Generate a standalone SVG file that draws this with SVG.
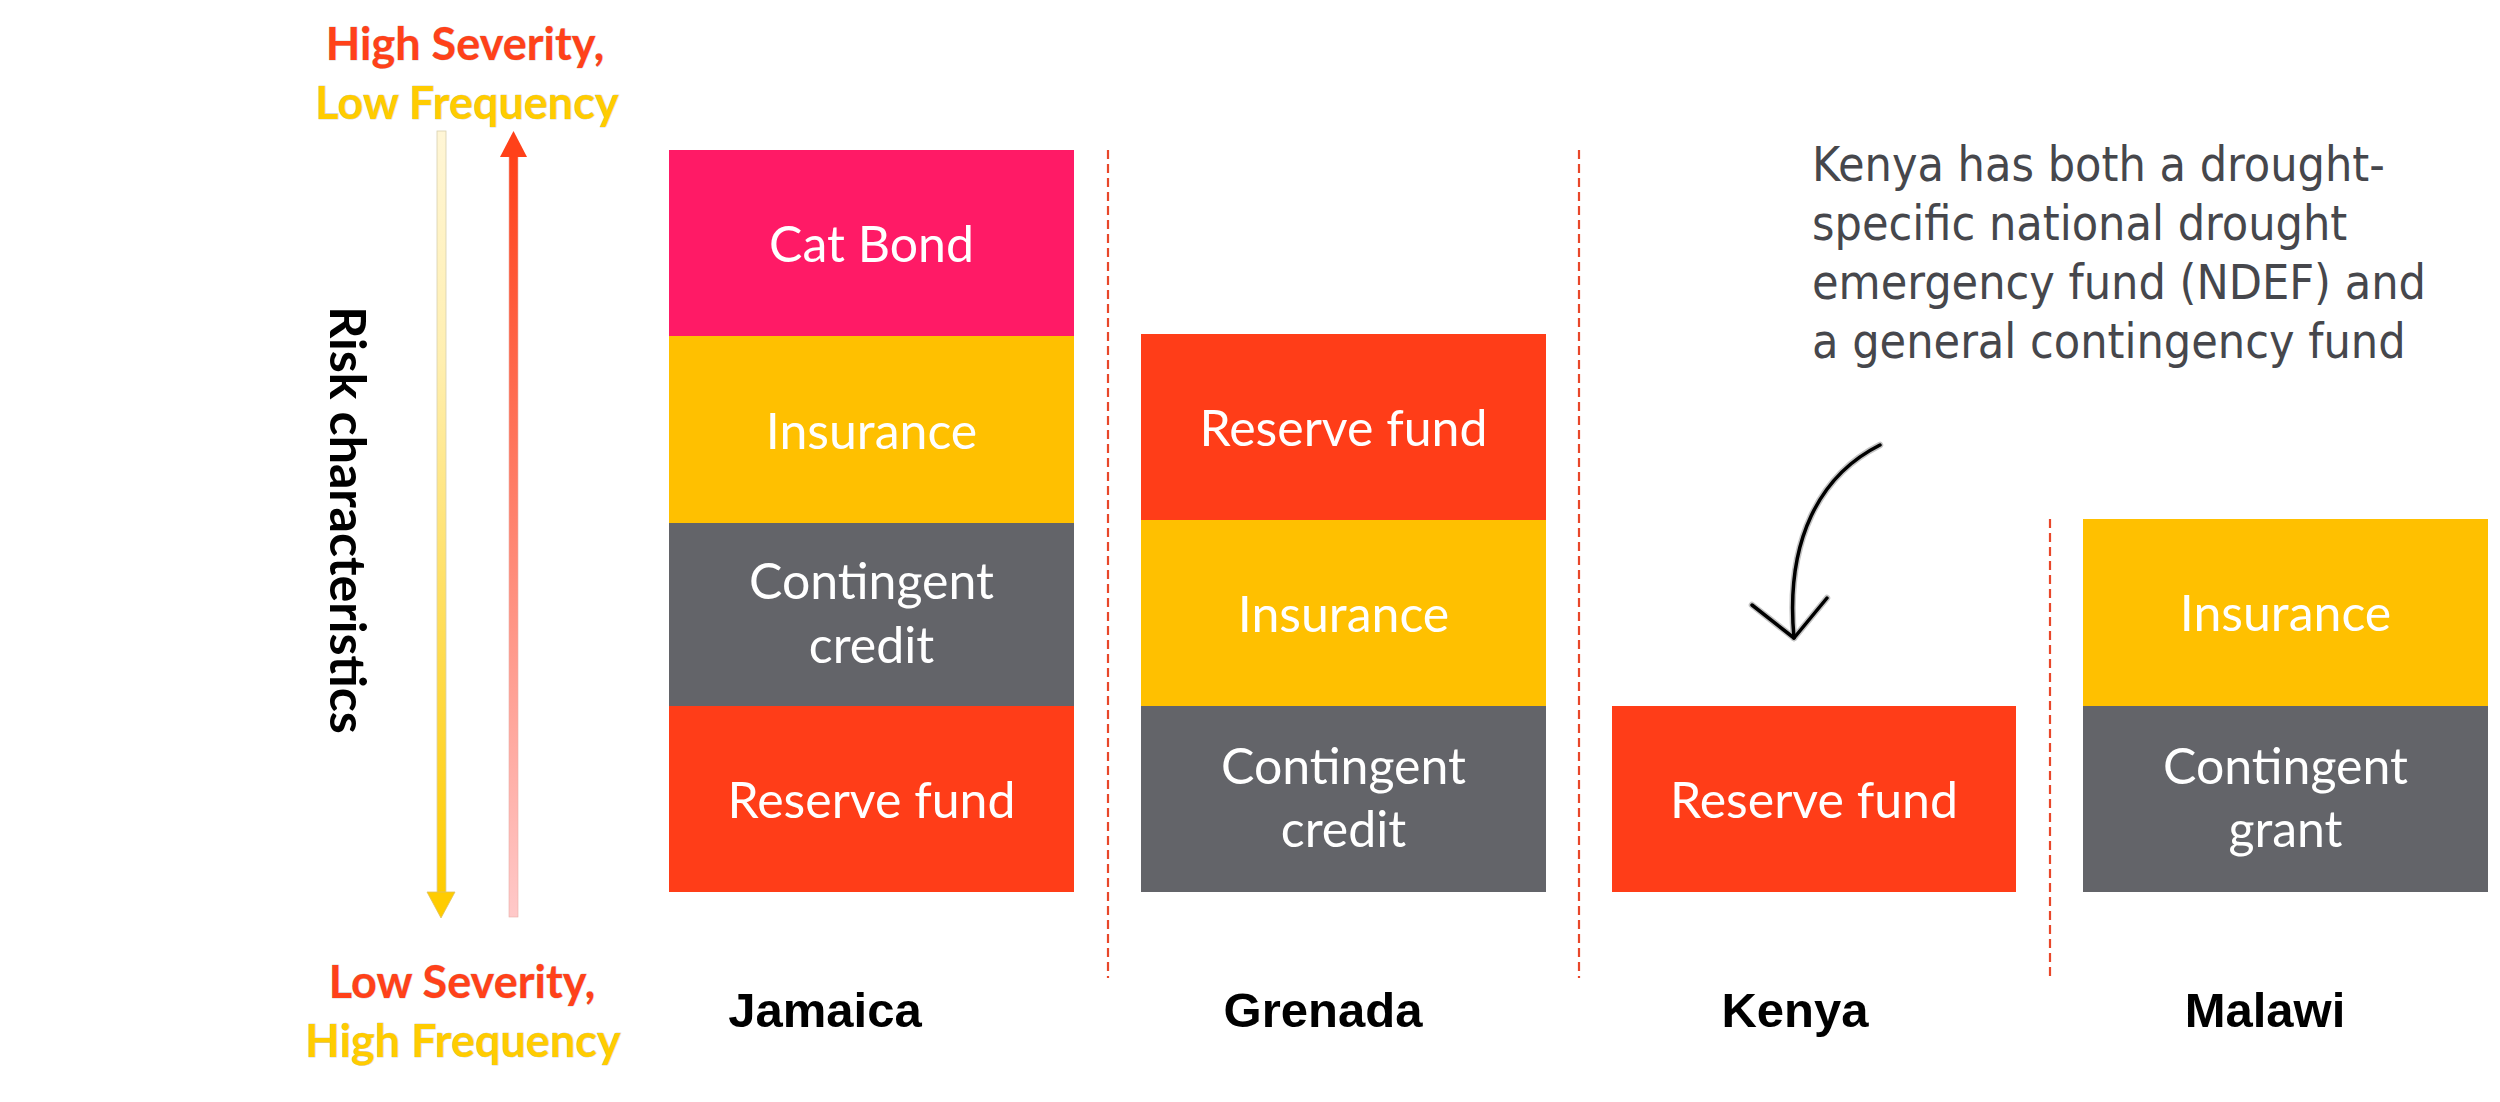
<svg xmlns="http://www.w3.org/2000/svg" width="2500" height="1102" viewBox="0 0 2500 1102">
<defs>
<linearGradient id="gYellow" x1="0" y1="0" x2="0" y2="1">
<stop offset="0" stop-color="#FFF6D6"/>
<stop offset="0.3" stop-color="#FFEFB0"/>
<stop offset="1" stop-color="#FFCC00"/>
</linearGradient>
<linearGradient id="gRed" x1="0" y1="0" x2="0" y2="1">
<stop offset="0" stop-color="#FF4119"/>
<stop offset="1" stop-color="#FFC9C9"/>
</linearGradient>
<style>
.box{font-family:Lato,"Open Sans",sans-serif;font-size:50px;fill:#FFFFFF;text-anchor:middle}
.pink{fill:#FF1A66}
.yel{fill:#FFC000}
.grey{fill:#636469}
.red{fill:#FF3D18}
.country{font-family:"Liberation Sans",Arial,sans-serif;font-weight:bold;font-size:49px;fill:#000000;text-anchor:middle}
.axis{font-family:Lato,"Open Sans",sans-serif;font-weight:bold;font-size:45px;text-anchor:middle;stroke:#BBBBBB;stroke-width:0.6px;paint-order:stroke}
.sev{fill:#FF4119}
.freq{fill:#FFCC00}
.div{stroke:#E8472A;stroke-width:2.2;stroke-dasharray:9 5;fill:none}
.hand{font-family:"DejaVu Sans Condensed","Liberation Sans Narrow",sans-serif;font-size:48px;fill:#46474C}
</style>
</defs>
<rect x="0" y="0" width="2500" height="1102" fill="#FFFFFF"/>

<g id="axis">
<text class="axis sev" x="465" y="60">High Severity,</text>
<text class="axis freq" x="467" y="119">Low Frequency</text>
<text class="axis sev" x="462" y="998">Low Severity,</text>
<text class="axis freq" x="463" y="1057">High Frequency</text>
<g id="arrow-down">
<rect x="437" y="131" width="9" height="762" fill="url(#gYellow)" stroke="#D8D0B0" stroke-width="0.8"/>
<polygon points="427,892 455,892 441,918" fill="#FFCC00" stroke="#E0C060" stroke-width="0.8"/>
</g>
<g id="arrow-up">
<rect x="509" y="156" width="9" height="761" fill="url(#gRed)" stroke="#E8B0A8" stroke-width="0.6"/>
<polygon points="500,157 527,157 513.5,131" fill="#FF4119"/>
</g>
<text transform="translate(330,520) rotate(90)" font-family="Lato,'Open Sans',sans-serif" font-weight="bold" font-size="50" text-anchor="middle" fill="#000000">Risk characteristics</text>
</g>

<g id="connectors">
<line class="div" x1="1108" y1="150" x2="1108" y2="978"/>
<line class="div" x1="1579" y1="150" x2="1579" y2="978"/>
<line class="div" x1="2050" y1="519" x2="2050" y2="978"/>
<path d="M1880,445 C1820,475 1785,540 1794,638" fill="none" stroke="#C4C4C4" stroke-width="6.5" stroke-linecap="round"/>
<path d="M1752,605 L1794,638 L1827,598" fill="none" stroke="#C4C4C4" stroke-width="6.5" stroke-linecap="round" stroke-linejoin="round"/>
<path d="M1880,445 C1820,475 1785,540 1794,638" fill="none" stroke="#000000" stroke-width="3.5" stroke-linecap="round"/>
<path d="M1752,605 L1794,638 L1827,598" fill="none" stroke="#000000" stroke-width="3.5" stroke-linecap="round" stroke-linejoin="round"/>
</g>

<g id="jamaica">
<rect class="pink" x="669" y="150" width="405" height="186"/>
<text class="box" x="871.5" y="262">Cat Bond</text>
<rect class="yel" x="669" y="336" width="405" height="187"/>
<text class="box" x="871.5" y="449">Insurance</text>
<rect class="grey" x="669" y="523" width="405" height="183"/>
<text class="box" x="871.5" y="599">Contingent</text>
<text class="box" x="871.5" y="663">credit</text>
<rect class="red" x="669" y="706" width="405" height="186"/>
<text class="box" x="871.5" y="818">Reserve fund</text>
<text class="country" x="825" y="1027">Jamaica</text>
</g>

<g id="grenada">
<rect class="red" x="1141" y="334" width="405" height="186"/>
<text class="box" x="1343.5" y="446">Reserve fund</text>
<rect class="yel" x="1141" y="520" width="405" height="186"/>
<text class="box" x="1343.5" y="632">Insurance</text>
<rect class="grey" x="1141" y="706" width="405" height="186"/>
<text class="box" x="1343.5" y="784">Contingent</text>
<text class="box" x="1343.5" y="847">credit</text>
<text class="country" x="1323" y="1027">Grenada</text>
</g>

<g id="kenya">
<rect class="red" x="1612" y="706" width="404" height="186"/>
<text class="box" x="1814" y="818">Reserve fund</text>
<text class="country" x="1795" y="1027">Kenya</text>
</g>

<g id="malawi">
<rect class="yel" x="2083" y="519" width="405" height="187"/>
<text class="box" x="2285.5" y="631">Insurance</text>
<rect class="grey" x="2083" y="706" width="405" height="186"/>
<text class="box" x="2285.5" y="784">Contingent</text>
<text class="box" x="2285.5" y="847">grant</text>
<text class="country" x="2265" y="1027">Malawi</text>
</g>

<g id="note">
<text class="hand" x="1812" y="181">Kenya has both a drought-</text>
<text class="hand" x="1812" y="240">specific national drought</text>
<text class="hand" x="1812" y="299">emergency fund (NDEF) and</text>
<text class="hand" x="1812" y="358">a general contingency fund</text>
</g>
</svg>
